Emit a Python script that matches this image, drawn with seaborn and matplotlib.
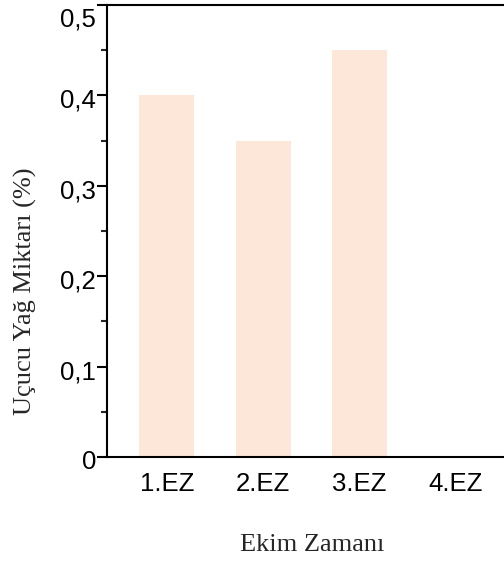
import numpy as np
import pandas as pd
import matplotlib
matplotlib.use("Agg")
import matplotlib.pyplot as plt
from matplotlib.ticker import FixedLocator, MultipleLocator
from matplotlib.transforms import ScaledTranslation
import seaborn as sns

# Volatile oil content by sowing time
sowing_times = ["1.EZ", "2.EZ", "3.EZ", "4.EZ"]
oil_content = [0.40, 0.35, 0.45, np.nan]
ytick_values = [0.0, 0.1, 0.2, 0.3, 0.4, 0.5]
ytick_labels = ["0", "0,1", "0,2", "0,3", "0,4", "0,5"]
xlabel = "Ekim Zamanı"
ylabel = "Uçucu Yağ Miktarı (%)"

sns.set_style("ticks")
plt.rcParams["font.family"] = ["Liberation Sans", "DejaVu Sans"]

df = pd.DataFrame({"ez": sowing_times, "oil": oil_content})

fig = plt.figure(figsize=(5.04, 5.61), dpi=100)
ax = fig.add_axes([0.2123, 0.1854, 0.7877, 0.8057])

sns.barplot(data=df, x="ez", y="oil", order=sowing_times, color="#FCE7D9",
            saturation=1, width=0.57, linewidth=0, errorbar=None, ax=ax)

ax.set_xlim(-0.62, 3.5)
ax.set_ylim(0, 0.5)
ax.yaxis.set_major_locator(FixedLocator(ytick_values))
ax.set_yticklabels(ytick_labels)
ax.yaxis.set_minor_locator(MultipleLocator(0.05))

for side in ["left", "bottom", "top"]:
    ax.spines[side].set_linewidth(1.5)
    ax.spines[side].set_color("black")
ax.spines["right"].set_visible(False)

ax.tick_params(axis="y", which="major", direction="out", length=7.5, width=1.5,
               pad=0.5, labelsize=18.5, colors="black")
ax.tick_params(axis="y", which="minor", direction="out", length=4.5, width=1.5)
ax.tick_params(axis="x", length=0, pad=10.5, labelsize=18.5, colors="black")

# nudge the value labels slightly below their ticks; keep the top one inside
for i, lab in enumerate(ax.get_yticklabels()):
    dy = -0.12 if i == len(ytick_values) - 1 else -0.03
    lab.set_transform(lab.get_transform() + ScaledTranslation(0, dy, fig.dpi_scale_trans))

serif = ["Liberation Serif", "DejaVu Serif"]
ax.set_xlabel(xlabel, family=serif, fontsize=19)
ax.set_ylabel(ylabel, family=serif, fontsize=19)
ax.xaxis.set_label_coords(0.516, -0.170)
ax.yaxis.set_label_coords(-0.176, 0.367)

fig.savefig("out.png", dpi=100)
